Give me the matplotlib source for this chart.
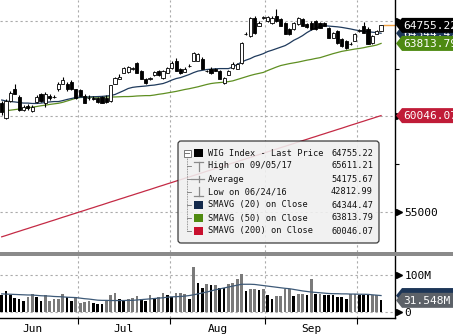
import numpy as np
import matplotlib.pyplot as plt
from matplotlib.patches import Rectangle, Polygon, FancyBboxPatch
from matplotlib.transforms import IdentityTransform, blended_transform_factory

W, H = 453, 336
plt.rcParams['font.family'] = ['DejaVu Sans Mono', 'DejaVu Sans']

# ---- data ----
opens = [60730, 59900, 60830, 61460, 61040, 60360, 60570, 60310, 60780, 61200,
         60680, 61090, 61040, 61410, 61720, 61720, 61820, 61410, 61400, 61090,
         60940, 60950, 60990, 61010, 60990, 60830, 61720, 61980, 62290, 62320,
         62500, 62810, 62400, 61980, 61980, 62140, 62400, 62030, 62290, 62550,
         62920, 62500, 62340, 62640, 62920, 62920, 63020, 62400, 62500, 62500,
         62400, 61770, 62190, 62550, 62500, 62810, 64310, 64220, 65160, 64740,
         65150, 65000, 64900, 65260, 65100, 64900, 64580, 64580, 64840, 65100,
         64840, 64900, 65000, 64900, 64900, 64640, 64120, 64480, 64060, 63960,
         63800, 63960, 64480, 64740, 64580, 63850, 64320, 64480]
closes = [60210, 60830, 61250, 61200, 60360, 60520, 60420, 60520, 61040, 60830,
          61200, 60940, 61000, 61720, 61930, 61410, 61460, 60990, 61090, 60730,
          60960, 60930, 60760, 60730, 60750, 61620, 62030, 62080, 62550, 62570,
          62520, 62290, 61980, 61770, 62000, 62340, 62140, 62400, 62550, 62810,
          62400, 62290, 62500, 62660, 63330, 63280, 62500, 62380, 62290, 62400,
          61980, 62030, 62400, 62760, 62760, 63850, 64330, 65160, 64380, 64900,
          65170, 65210, 65160, 65000, 64740, 64320, 64320, 64900, 65160, 64740,
          64690, 64580, 64580, 64640, 64740, 64120, 64380, 63850, 63700, 63590,
          63780, 64320, 64500, 64380, 63800, 64220, 64480, 64755.22]
highs = [60830, 60900, 61350, 61670, 61100, 60600, 60650, 60600, 61100, 61250,
         61260, 61150, 61100, 61800, 62080, 61780, 61880, 61450, 61450, 61150,
         61100, 61080, 61040, 61060, 61120, 61660, 62080, 62200, 62600, 62620,
         62580, 62850, 62450, 62020, 62060, 62390, 62440, 62450, 62600, 62900,
         63050, 62540, 62560, 62720, 63380, 63330, 63080, 62450, 62560, 62540,
         62440, 62080, 62450, 62820, 62800, 63900, 64400, 65210, 65220, 64960,
         65250, 65260, 65220, 65611.21, 65160, 64950, 64620, 64950, 65210, 65150,
         64900, 64960, 65050, 64950, 64950, 64690, 64430, 64520, 64100, 64000,
         63880, 64380, 64580, 64950, 64650, 64270, 64540, 64800]
lows = [60100, 59850, 60780, 61150, 60300, 60300, 60350, 60250, 60700, 60780,
        60500, 60880, 60950, 61350, 61680, 61350, 61400, 60930, 61050, 60690,
        60880, 60880, 60720, 60700, 60700, 60780, 61680, 61950, 62250, 62280,
        62440, 62250, 61940, 61700, 61920, 62100, 62090, 61980, 62250, 62500,
        62350, 62230, 62300, 62580, 62880, 62880, 62460, 62320, 62240, 62360,
        61940, 61720, 62150, 62500, 62460, 62760, 64250, 64170, 64330, 64700,
        65100, 64950, 64850, 64950, 64700, 64280, 64270, 64540, 64800, 64700,
        64640, 64540, 64540, 64600, 64700, 64080, 64080, 63800, 63640, 63540,
        63720, 63920, 64420, 64340, 63760, 63800, 64280, 64440]

sma20 = [60860, 60810, 60780, 60760, 60730, 60700, 60700, 60680, 60680, 60700,
         60730, 60760, 60780, 60780, 60830, 60890, 60940, 60990, 61000, 61010,
         61020, 61030, 61040, 61050, 61070, 61090, 61150, 61250, 61350, 61460,
         61520, 61550, 61570, 61590, 61620, 61640, 61680, 61720, 61800, 61900,
         61980, 62030, 62110, 62190, 62290, 62370, 62410, 62450, 62470, 62490,
         62500, 62500, 62500, 62580, 62710, 62840, 62940, 63020, 63130, 63200,
         63280, 63390, 63460, 63540, 63620, 63700, 63830, 63980, 64090, 64220,
         64380, 64510, 64610, 64710, 64740, 64720, 64700, 64680, 64650, 64610,
         64570, 64520, 64480, 64450, 64430, 64400, 64380, 64344.47]
sma50 = [60270, 60300, 60330, 60360, 60390, 60420, 60450, 60490, 60520, 60560,
         60590, 60630, 60660, 60690, 60740, 60810, 60880, 60950, 60990, 61000,
         61000, 61010, 61010, 61020, 61020, 61020, 61020, 61030, 61040, 61040,
         61050, 61070, 61080, 61090, 61090, 61120, 61160, 61190, 61230, 61270,
         61310, 61360, 61410, 61450, 61500, 61550, 61610, 61670, 61720, 61750,
         61770, 61790, 61820, 61860, 61930, 62000, 62070, 62140, 62200, 62250,
         62300, 62400, 62490, 62580, 62660, 62710, 62760, 62800, 62840, 62890,
         62940, 62980, 63030, 63070, 63140, 63210, 63280, 63340, 63400, 63440,
         63480, 63520, 63550, 63590, 63640, 63680, 63730, 63813.79]
sma200 = [53720, 53790, 53865, 53940, 54010, 54085, 54155, 54230, 54300, 54375,
          54445, 54520, 54590, 54665, 54740, 54810, 54885, 54955, 55030, 55100,
          55175, 55245, 55320, 55390, 55465, 55540, 55610, 55685, 55755, 55830,
          55900, 55975, 56045, 56120, 56190, 56265, 56340, 56410, 56485, 56555,
          56630, 56700, 56775, 56845, 56920, 56990, 57065, 57140, 57210, 57285,
          57355, 57430, 57500, 57575, 57645, 57720, 57790, 57865, 57940, 58010,
          58085, 58155, 58230, 58300, 58375, 58445, 58520, 58590, 58665, 58740,
          58810, 58885, 58955, 59030, 59100, 59175, 59245, 59320, 59390, 59465,
          59540, 59610, 59685, 59755, 59830, 59900, 59975, 60046.07]

volume_m = [45, 56, 45, 38, 34, 29, 40, 50, 40, 31,
            45, 31, 34, 36, 48, 40, 31, 40, 24, 27,
            29, 24, 22, 22, 31, 45, 51, 34, 31, 34,
            38, 42, 34, 31, 45, 38, 40, 52, 45, 40,
            52, 52, 50, 36, 122, 78, 65, 77, 72, 74,
            65, 65, 77, 79, 90, 104, 56, 63, 63, 59,
            61, 47, 34, 42, 42, 63, 61, 43, 48, 50,
            47, 90, 48, 50, 45, 45, 45, 40, 40, 36,
            50, 50, 47, 47, 47, 45, 47, 31.548]
# 1 = black (down) bar, 0 = grey (up) bar
volume_down = [1, 1, 1, 1, 1, 1, 0, 0, 1, 1,
               0, 0, 0, 0, 0, 1, 1, 0, 0, 0,
               0, 1, 1, 1, 0, 0, 0, 1, 1, 0,
               0, 0, 1, 1, 0, 1, 0, 0, 1, 1,
               0, 0, 0, 1, 0, 1, 1, 0, 1, 0,
               1, 1, 0, 0, 0, 0, 1, 0, 0, 1,
               0, 1, 1, 0, 0, 0, 0, 1, 0, 0,
               1, 0, 1, 0, 1, 1, 1, 1, 1, 1,
               0, 0, 1, 1, 1, 0, 0, 1]
volume_sma_m = [49, 48.5, 48, 47.5, 47, 46.5, 46, 46,
                45, 44, 43.5, 43, 42, 41.5, 41, 40, 39.5, 39,
                37.5, 36, 35, 33.5, 32,
                31.5, 31.5, 31, 31, 31, 31, 31.5, 31.5,
                32.5, 33.5, 34.5, 35.5, 36.5, 37.5, 38.5, 40,
                41, 41.5, 42, 43, 44.5, 46.5, 49,
                51.5, 54, 57, 60, 62.5, 65, 67.5, 70, 72.5, 75,
                75, 75, 74.5, 73, 71.5,
                70, 68.5, 67, 65.5, 64, 63,
                61, 59, 57, 55.5, 54,
                53, 52, 51, 50, 49.5,
                49.5, 49, 49, 48.5, 48.5, 48, 48, 47.7,
                46.5, 45.5, 44.5]

month_names = ['Jun', 'Jul', 'Aug', 'Sep']
month_first_bar = [-3, 18, 39, 61, 82]

legend_rows = [('WIG Index - Last Price', '64755.22'),
               ('High on 09/05/17', '65611.21'),
               ('Average', '54175.67'),
               ('Low on 06/24/16', '42812.99'),
               ('SMAVG (20) on Close', '64344.47'),
               ('SMAVG (50) on Close', '63813.79'),
               ('SMAVG (200) on Close', '60046.07')]

C_SMA20 = '#1f3a5c'
C_SMA50 = '#5f8f22'
C_SMA200 = '#c42a45'
C_VSMA = '#3e5a78'
GRID = dict(color='#aaaaaa', lw=0.8, ls=(0, (2, 2.5)), zorder=0)

# ---- figure ----
fig = plt.figure(figsize=(W / 100, H / 100), dpi=100)
fig.patch.set_facecolor('white')


def fax(l, t, r, b):
    return fig.add_axes([l / W, 1 - b / H, (r - l) / W, (b - t) / H])


x = np.arange(len(closes))
bounds = np.array(month_first_bar) - 0.5
centers = (bounds[:-1] + bounds[1:]) / 2
XL = (-0.39, 90.2)

ax = fax(0, 0, 395, 252)
vax = fax(0, 256, 395, 318)

# separator band between panels
fig.add_artist(Rectangle((0, 1 - 256 / H), 1, 4.5 / H, transform=fig.transFigure,
                         fc='#8a8a8a', ec='none', zorder=0.5))

# ---- price panel ----
ax.set_xlim(*XL)
ax.set_ylim(52928, 66080)
for s in ['left', 'top', 'bottom']:
    ax.spines[s].set_visible(False)
ax.spines['right'].set_linewidth(1.0)
for yv in [55000, 60000, 65000]:
    ax.axhline(yv, **GRID)
for b in bounds[1:]:
    ax.axvline(b, **GRID)

o = np.array(opens); c = np.array(closes)
up = c >= o
ax.vlines(x, lows, highs, color='black', lw=0.8, zorder=3)
ax.bar(x, np.maximum(np.abs(c - o), 12), bottom=np.minimum(o, c), width=0.72,
       color=np.where(up, 'white', 'black'), edgecolor='black', lw=0.6, zorder=4)
ax.plot(x, sma200, color=C_SMA200, lw=0.9, zorder=2)
ax.plot(x, sma50, color=C_SMA50, lw=0.9, zorder=2)
ax.plot(x, sma20, color=C_SMA20, lw=0.9, zorder=2)
ax.hlines(closes[-1], x[-1] + 0.4, XL[1], color='#f0a040', lw=1.0, zorder=2, clip_on=False)

ax.yaxis.tick_right()
ax.set_yticks([55000, 60000, 65000], ['55000', '', ''])
ax.set_yticks([57500, 62500], minor=True)
ax.tick_params(axis='y', which='major', length=0, pad=7, labelsize=8)
ax.tick_params(axis='y', which='minor', length=3, width=0.8, direction='out')
ax.set_xticks([])
bl = blended_transform_factory(ax.transAxes, ax.transData)
ax.plot([1.009] * 3, [55000, 60000, 65000], ls='none', marker='>', ms=4,
        color='black', transform=bl, clip_on=False)

# ---- volume panel ----
vax.set_xlim(*XL)
vax.set_ylim(-16.2, 151.4)
for s in ['left', 'top']:
    vax.spines[s].set_visible(False)
vax.spines['right'].set_linewidth(1.0)
vax.spines['bottom'].set_linewidth(1.0)
for yv in [0, 100]:
    vax.axhline(yv, **GRID)
for b in bounds[1:]:
    vax.axvline(b, **GRID)
vcol = ['black' if d else '#7a7a7a' for d in volume_down]
vax.bar(x, volume_m, width=0.62, color=vcol, zorder=2)
vax.plot(x, volume_sma_m, color=C_VSMA, lw=0.9, zorder=3)
vax.yaxis.tick_right()
vax.set_yticks([0, 100], ['0', '100M'])
vax.tick_params(axis='y', length=0, pad=7, labelsize=8)
vax.set_xticks(bounds[1:])
vax.set_xticks(centers, month_names, minor=True)
vax.tick_params(axis='x', which='major', length=4, width=0.8, labelbottom=False)
vax.tick_params(axis='x', which='minor', length=0, pad=4, labelsize=8)
vbl = blended_transform_factory(vax.transAxes, vax.transData)
vax.plot([1.009] * 2, [0, 100], ls='none', marker='>', ms=4,
         color='black', transform=vbl, clip_on=False)


# ---- price tags on the right ----
def tag(axis, value, text, fc, z):
    yd = axis.transData.transform((0, value))[1]
    verts = [(396, yd), (402, yd + 7.5), (470, yd + 7.5), (470, yd - 7.5), (402, yd - 7.5)]
    fig.add_artist(Polygon(verts, closed=True, transform=IdentityTransform(),
                           fc=fc, ec='none', zorder=z))
    if text:
        fig.text(403, yd - 0.5, text, transform=IdentityTransform(), color='white',
                 fontsize=8, va='center', ha='left', zorder=z + 0.1)


tag(ax, sma20[-1], '64344.47', '#1d3658', 5)
tag(ax, sma50[-1], '63813.79', '#4e8a12', 6)
tag(ax, closes[-1], '64755.22', '#000000', 7)
tag(ax, sma200[-1], '60046.07', '#c01c38', 6)
tag(vax, volume_sma_m[-1], '', '#1d3658', 5)
tag(vax, volume_m[-1], '31.548M', '#5c6168', 7)

# ---- legend ----
lax = fax(170, 135, 390, 250)
lax.set_xlim(170, 390)
lax.set_ylim(250, 135)
lax.axis('off')
lax.add_patch(FancyBboxPatch((178, 141), 201, 102, boxstyle='round,pad=0,rounding_size=3',
                             fc='#f0f0f0', ec='#222222', lw=0.9, alpha=0.88))
row_y = [153 + 13 * k for k in range(len(legend_rows))]
tree = '#777777'
lax.add_patch(Rectangle((183.5, 149.5), 7, 7, fc='white', ec=tree, lw=0.7))
lax.plot([185, 189], [153, 153], color=tree, lw=0.7)
lax.plot([187, 187], [157, row_y[-1]], color=tree, lw=0.6, ls=(0, (1, 1)))
for yy in row_y[1:]:
    lax.plot([187, 191], [yy, yy], color=tree, lw=0.6)
sq_colors = ['#000000', None, None, None, '#13294b', '#4f8a10', '#c8102e']
for k, yy in enumerate(row_y):
    if sq_colors[k]:
        lax.add_patch(Rectangle((194, yy - 4), 9, 8, fc=sq_colors[k], ec='none'))
sym = '#8a8a8a'
lax.plot([194, 203], [row_y[1] - 4, row_y[1] - 4], color=sym, lw=0.9)
lax.plot([198.5, 198.5], [row_y[1] - 4, row_y[1] + 5], color=sym, lw=0.9)
lax.plot([191, 204], [row_y[2], row_y[2]], color=sym, lw=0.9)
lax.plot([198.5, 198.5], [row_y[2] - 3, row_y[2] + 3], color=sym, lw=0.9)
lax.plot([198.5, 198.5], [row_y[3] - 5, row_y[3] + 4], color=sym, lw=0.9)
lax.plot([194, 203], [row_y[3] + 4, row_y[3] + 4], color=sym, lw=0.9)
for (label, val), yy in zip(legend_rows, row_y):
    lax.text(208, yy, label, fontsize=6.2, va='center', ha='left', color='#111111')
    lax.text(373, yy, val, fontsize=6.2, va='center', ha='right', color='#111111')

fig.savefig('out.png', dpi=100)
